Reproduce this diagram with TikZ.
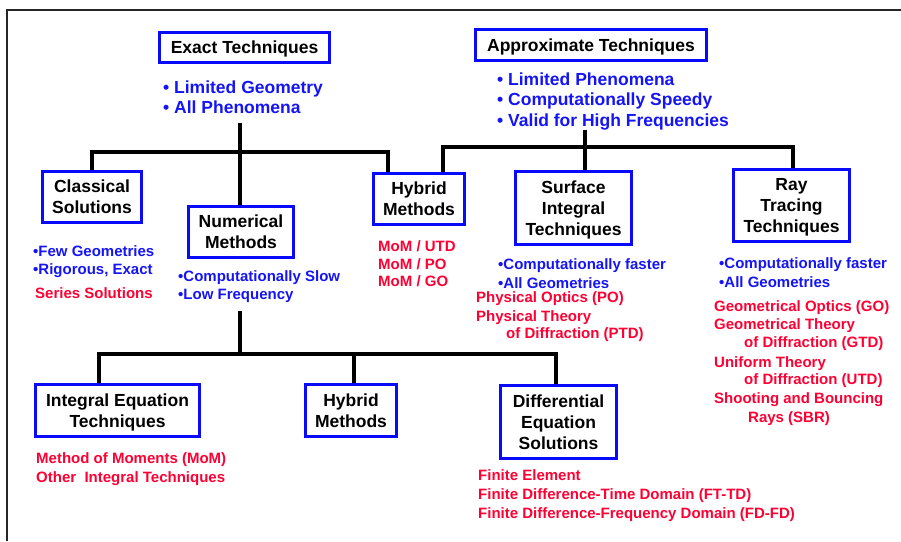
\documentclass[tikz,border=0pt]{standalone}
\usepackage{fontspec}
\setmainfont{Liberation Sans}
\newcommand\hdfont{\fontsize{17.5}{21}\selectfont\bfseries}
\newcommand\lblfont{\fontsize{15}{18}\selectfont\bfseries}
\definecolor{boxblue}{RGB}{10,10,250}
\definecolor{txtblue}{RGB}{20,20,245}
\definecolor{txtred}{RGB}{255,0,51}
\tikzset{
  box/.style={draw=boxblue, line width=3pt, fill=white, align=center,
    inner sep=0pt, text depth=0pt, font=\hdfont, text=black},
  conn/.style={draw=black, line width=3.3pt},
  headline/.style={anchor=base west, inner sep=0pt, font=\hdfont, text=txtblue},
  bluetxt/.style={anchor=base west, inner sep=0pt, font=\lblfont, text=txtblue},
  redtxt/.style={anchor=base west, inner sep=0pt, font=\lblfont, text=txtred},
}
\begin{document}
\begin{tikzpicture}[x=1pt, y=-1pt]
\useasboundingbox (0,0) rectangle (901,541);

% outer frame (top and left edges)
\draw[line width=1.5pt, black!85] (7,541) -- (7,10) -- (901,10);

% main boxes
\node[box, minimum width=170pt, minimum height=30pt] (exact) at (244.5,47.5) {Exact Techniques};
\node[box, minimum width=231pt, minimum height=31pt] (approx) at (591,45) {Approximate Techniques};
\node[box, minimum width=99pt, minimum height=51pt] (classical) at (92,197) {Classical\\Solutions};
\node[box, minimum width=105pt, minimum height=51pt] (numerical) at (241,232) {Numerical\\Methods};
\node[box, minimum width=91pt, minimum height=51pt] (hybridT) at (419,199) {Hybrid\\Methods};
\node[box, minimum width=116pt, minimum height=73pt] (surface) at (573.5,208) {Surface\\Integral\\Techniques};
\node[box, minimum width=116pt, minimum height=72pt] (ray) at (791.5,205.5) {Ray\\Tracing\\Techniques};
\node[box, minimum width=164pt, minimum height=52pt] (integral) at (117.5,410.5) {Integral Equation\\Techniques};
\node[box, minimum width=91pt, minimum height=52pt] (hybridB) at (351,410.5) {Hybrid\\Methods};
\node[box, minimum width=116pt, minimum height=73pt] (diff) at (558.5,422) {Differential\\Equation\\Solutions};

% properties of exact techniques
\node[headline] (ex1) at (163,93) {• Limited Geometry};
\node[headline] (ex2) at (163,113) {• All Phenomena};

% properties of approximate techniques
\node[headline] (ap1) at (497,85) {• Limited Phenomena};
\node[headline] (ap2) at (497,105.5) {• Computationally Speedy};
\node[headline] (ap3) at (497,126) {• Valid for High Frequencies};

% stems and branches
\coordinate (exactstem) at (240,123);
\coordinate (approxstem) at (585,130);
\coordinate (numstem) at (240,311);
\coordinate (numbar) at (240,354);

\draw[conn] (exactstem) -- (exactstem |- numerical.north);
\draw[conn] (classical.north) -- ++(0,-18) -| ([xshift=-31pt]hybridT.north);

\draw[conn] (approxstem) -- (approxstem |- surface.north);
\draw[conn] ([xshift=24pt]hybridT.north) -- ++(0,-25) -| ([xshift=1.5pt]ray.north);

\draw[conn] (numstem) -- (numbar);
\draw[conn] ([xshift=-18.5pt]integral.north) -- ++(0,-29) -| ([xshift=-2.5pt]diff.north);
\draw[conn] ([xshift=3pt]hybridB.north) -- ++(0,-29);

% classical solutions
\node[bluetxt] (cl1) at (33,256.5) {•Few Geometries};
\node[bluetxt] (cl2) at (33,274.5) {•Rigorous, Exact};
\node[redtxt] (cl3) at (35,298.5) {Series Solutions};

% numerical methods
\node[bluetxt] (nm1) at (178,281.5) {•Computationally Slow};
\node[bluetxt] (nm2) at (178,299.5) {•Low Frequency};

% hybrid methods
\node[redtxt] (hy1) at (378,251) {MoM / UTD};
\node[redtxt] (hy2) at (378,269) {MoM / PO};
\node[redtxt] (hy3) at (378,286.5) {MoM / GO};

% surface integral techniques
\node[bluetxt] (si1) at (498,269.5) {•Computationally faster};
\node[bluetxt] (si2) at (498,288.5) {•All Geometries};
\node[redtxt] (si3) at (476,302.5) {Physical Optics (PO)};
\node[redtxt] (si4) at (476,321.5) {Physical Theory};
\node[redtxt] (si5) at (506,338.5) {of Diffraction (PTD)};

% ray tracing techniques
\node[bluetxt] (rt1) at (719,268.5) {•Computationally faster};
\node[bluetxt] (rt2) at (719,287.5) {•All Geometries};
\node[redtxt] (rt3) at (714,311.5) {Geometrical Optics (GO)};
\node[redtxt] (rt4) at (714,329.5) {Geometrical Theory};
\node[redtxt] (rt5) at (744,347.5) {of Diffraction (GTD)};
\node[redtxt] (rt6) at (714,367.5) {Uniform Theory};
\node[redtxt] (rt7) at (744,384.5) {of Diffraction (UTD)};
\node[redtxt] (rt8) at (714,403.5) {Shooting and Bouncing};
\node[redtxt] (rt9) at (748,422.5) {Rays (SBR)};

% integral equation techniques
\node[redtxt] (ie1) at (36,463.5) {Method of Moments (MoM)};
\node[redtxt] (ie2) at (36,482.5) {Other\ \ Integral Techniques};

% differential equation solutions
\node[redtxt] (de1) at (478,480.5) {Finite Element};
\node[redtxt] (de2) at (478,499.5) {Finite Difference-Time Domain (FT-TD)};
\node[redtxt] (de3) at (478,518.5) {Finite Difference-Frequency Domain (FD-FD)};
\end{tikzpicture}
\end{document}
